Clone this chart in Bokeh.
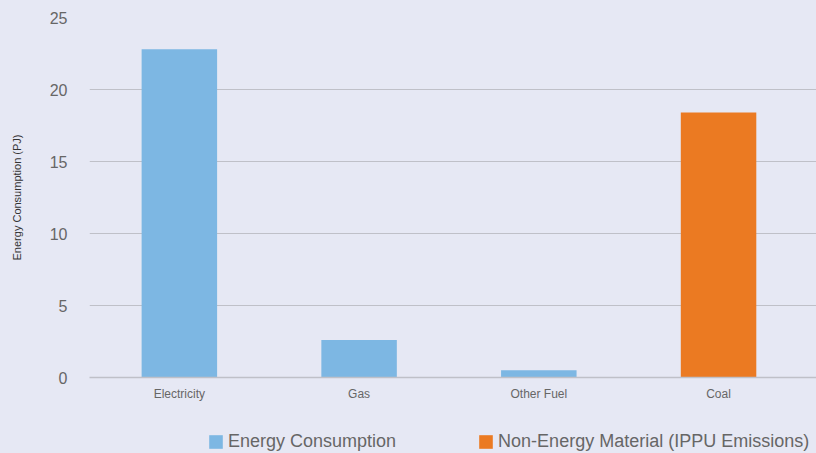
from bokeh.plotting import figure
from bokeh.models import ColumnDataSource, Range1d, FixedTicker, Legend, LegendItem
from bokeh.layouts import column
from bokeh.embed import file_html
from bokeh.resources import INLINE

categories = ["Electricity", "Gas", "Other Fuel", "Coal"]
energy_consumption = [22.8, 2.6, 0.5, 0.0]
non_energy_material = [0.0, 0.0, 0.0, 18.4]
series_names = ["Energy Consumption", "Non-Energy Material (IPPU Emissions)"]
y_ticks = [0, 5, 10, 15, 20, 25]

BG = "#E6E8F4"
GRID = "#BFC0C8"
TEXT = "#666666"
FONT = "Liberation Sans"
BLUE = "#7DB7E3"
ORANGE = "#EB7A22"

xs = [i + 0.5 for i in range(len(categories))]
src = ColumnDataSource(dict(x=xs, cat=categories, e=energy_consumption, n=non_energy_material))

p = figure(width=816, height=410, output_backend="svg", toolbar_location=None,
           x_range=Range1d(0, 4.045), y_range=Range1d(0, 25),
           min_border_left=89, min_border_right=0, min_border_top=17, min_border_bottom=33)
p.background_fill_color = BG
p.border_fill_color = BG
p.outline_line_color = None

p.vbar(x="x", top="e", width=0.42, source=src, color=BLUE, line_color=None)
p.vbar(x="x", top="n", width=0.42, source=src, color=ORANGE, line_color=None)

p.xaxis.ticker = FixedTicker(ticks=xs)
p.xaxis.major_label_overrides = {x: c for x, c in zip(xs, categories)}
p.xaxis.major_tick_line_color = None
p.xaxis.minor_tick_line_color = None
p.xaxis.axis_line_color = GRID
p.xaxis.axis_line_width = 1.5
p.xaxis.major_label_text_font = FONT
p.xaxis.major_label_text_font_size = "12px"
p.xaxis.major_label_text_color = TEXT
p.xaxis.major_label_standoff = 3
p.xgrid.grid_line_color = None

p.yaxis.ticker = FixedTicker(ticks=y_ticks)
p.yaxis.major_tick_line_color = None
p.yaxis.minor_tick_line_color = None
p.yaxis.axis_line_color = None
p.yaxis.major_label_text_font = FONT
p.yaxis.major_label_text_font_size = "16px"
p.yaxis.major_label_text_color = TEXT
p.yaxis.major_label_standoff = 16
p.yaxis.axis_label = "Energy Consumption (PJ)"
p.yaxis.axis_label_text_font = FONT
p.yaxis.axis_label_text_font_size = "11px"
p.yaxis.axis_label_text_font_style = "normal"
p.yaxis.axis_label_text_color = "#333333"
p.yaxis.axis_label_standoff = 24
p.ygrid.grid_line_color = GRID
p.ygrid.grid_line_width = 1.2

# legend strip below the chart (its bars lie far below its own y range, only the legend shows)
lg = figure(width=816, height=43, output_backend="svg", toolbar_location=None,
            x_range=Range1d(0, 4.045), y_range=Range1d(500, 501),
            x_axis_location=None, y_axis_location=None,
            min_border_left=89, min_border_right=0, min_border_top=0, min_border_bottom=0)
lg.background_fill_color = BG
lg.border_fill_color = BG
lg.outline_line_color = None
lg.xgrid.grid_line_color = None
lg.ygrid.grid_line_color = None
lr1 = lg.vbar(x="x", top="e", width=0.42, source=src, color=BLUE, line_color=None)
lr2 = lg.vbar(x="x", top="n", width=0.42, source=src, color=ORANGE, line_color=None)

legend = Legend(items=[LegendItem(label=series_names[0], renderers=[lr1], index=0),
                       LegendItem(label=series_names[1], renderers=[lr2], index=3)],
                location=(118, 1), orientation="horizontal",
                background_fill_alpha=0, border_line_color=None,
                padding=0, margin=0, spacing=81, label_standoff=4,
                glyph_width=17, glyph_height=17, label_height=18,
                label_text_font=FONT, label_text_font_size="18px", label_text_color=TEXT)
lg.add_layout(legend, "center")

layout = column(p, lg, spacing=0)
layout.styles = {"background-color": BG}
open("out.html", "w").write(file_html(layout, INLINE))
